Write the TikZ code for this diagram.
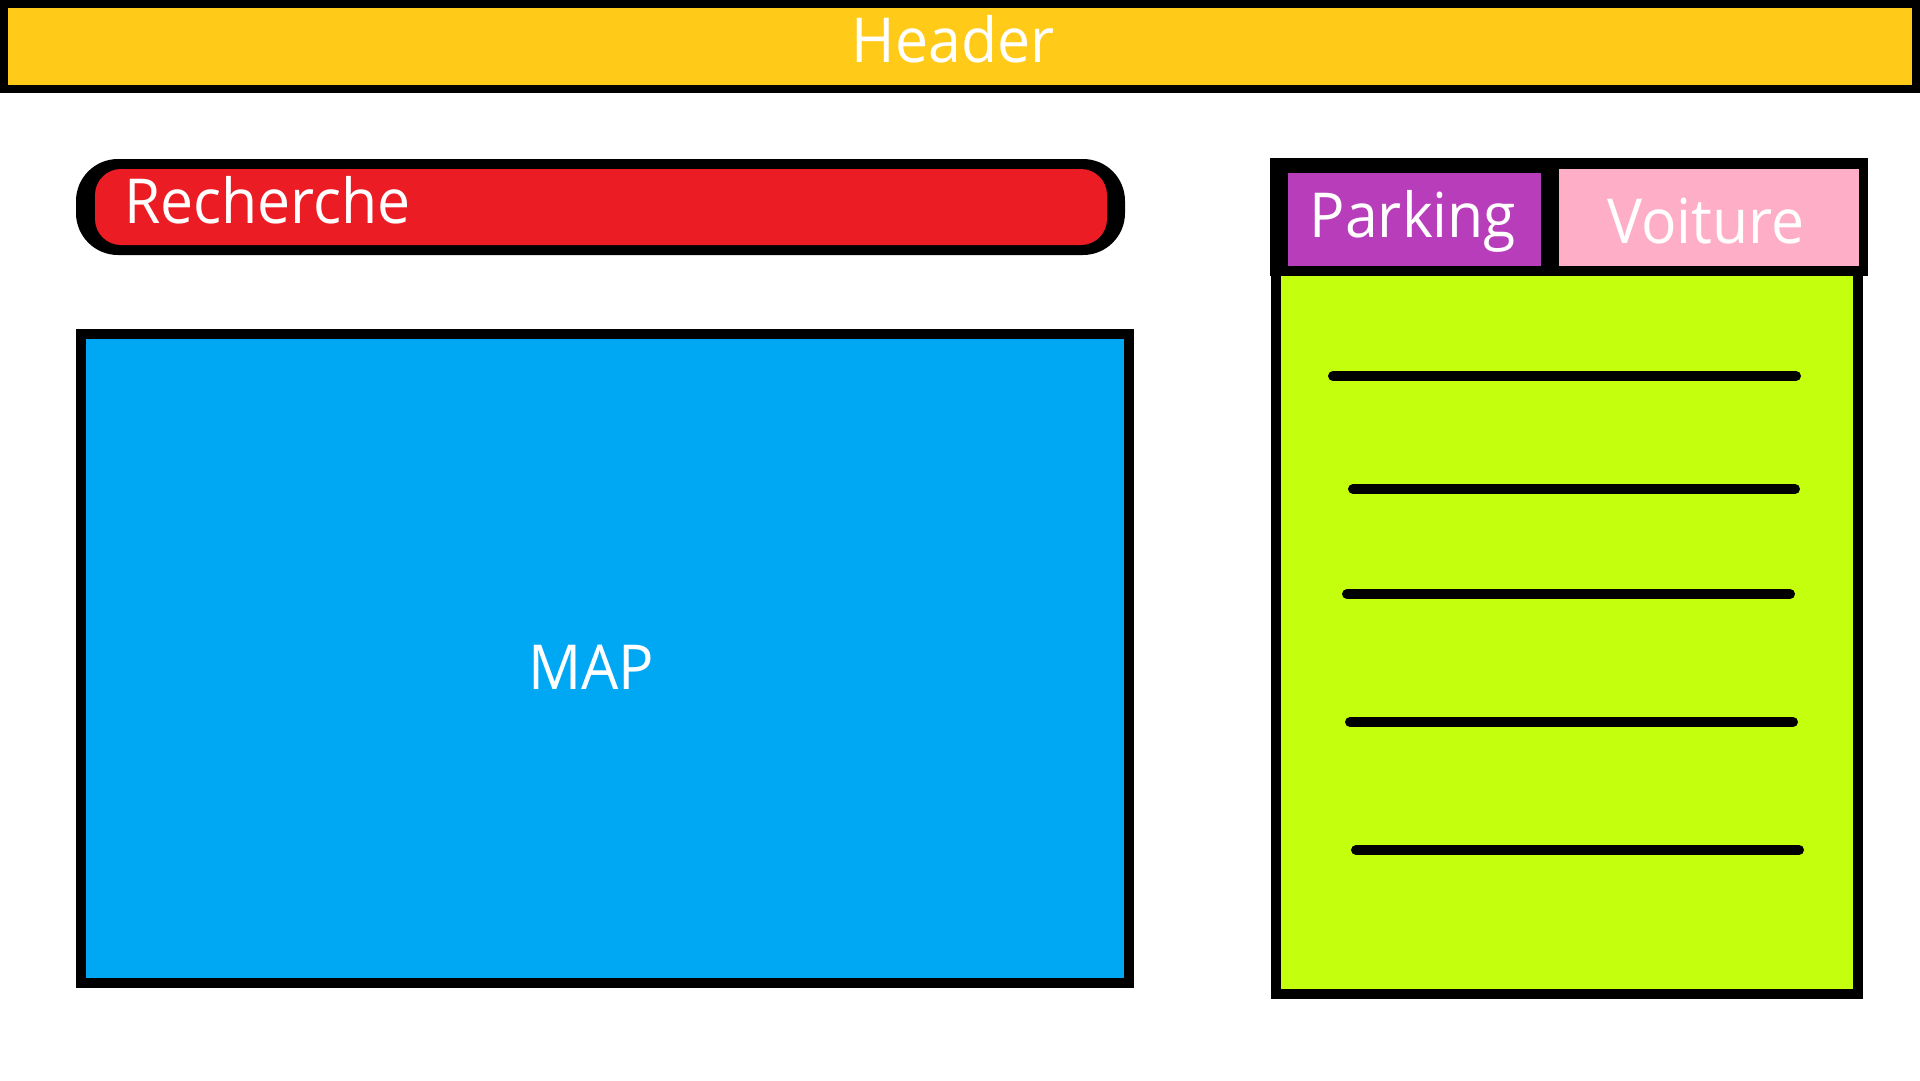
\documentclass[tikz,border=0pt]{standalone}
\usepackage{fontspec}
\setmainfont{Open Sans}[FakeStretch=0.95]
\definecolor{hdr}{HTML}{FFCA18}
\definecolor{srch}{HTML}{EC1C24}
\definecolor{mapc}{HTML}{00A8F3}
\definecolor{park}{HTML}{B83DBA}
\definecolor{voit}{HTML}{FFAEC8}
\definecolor{listc}{HTML}{C4FF0E}
\tikzset{
  box/.style={rectangle, inner sep=0pt, outer sep=0pt},
  lbl/.style={inner sep=0pt, outer sep=0pt, text=white, anchor=base, font=\fontsize{62}{70}\selectfont},
  rowline/.style={line width=10pt, line cap=round, black},
}
\begin{document}
\begin{tikzpicture}[x=1pt, y=-1pt]
\useasboundingbox (0,0) rectangle (1920,1080);
\fill[white] (0,0) rectangle (1920,1080);
% header
\node[box, draw=black, line width=8pt, fill=hdr, minimum width=1912pt, minimum height=85pt] (header) at (960,46.5) {};
\node[lbl] (headertxt) at (953,62) {Header};
% search bar
\node[box, fill=black, rounded corners=42pt, minimum width=1049pt, minimum height=96pt] (searchout) at (600.5,207) {};
\node[box, fill=srch, rounded corners=26pt, minimum width=1012pt, minimum height=76pt] (search) at (601,207) {};
\node[lbl, anchor=base west] (searchtxt) at (124,223) {Recherche};
% map
\node[box, draw=black, line width=10pt, fill=mapc, minimum width=1048pt, minimum height=649pt] (map) at (605,658) {};
\node[lbl] (maptxt) at (591,689) {MAP};
% right panel
\node[box, fill=black, minimum width=598pt, minimum height=118pt] (tabbar) at (1569,217) {};
\node[box, draw=black, line width=10pt, fill=listc, minimum width=582pt, minimum height=723pt] (list) at (1567,632.5) {};
\node[box, fill=park, minimum width=253pt, minimum height=93pt] (parking) at (1414.5,219.5) {};
\node[box, fill=voit, minimum width=300pt, minimum height=97pt] (voiture) at (1709,217.5) {};
\node[lbl] (parkingtxt) at (1413,237) {Parking};
\node[lbl] (voituretxt) at (1706,243) {Voiture};
% list rows
\coordinate (r1a) at (1333,376); \coordinate (r1b) at (1796,376);
\coordinate (r2a) at (1353,489); \coordinate (r2b) at (1795,489);
\coordinate (r3a) at (1347,594); \coordinate (r3b) at (1790,594);
\coordinate (r4a) at (1350,722); \coordinate (r4b) at (1793,722);
\coordinate (r5a) at (1356,850); \coordinate (r5b) at (1799,850);
\draw[rowline] (r1a) -- (r1b);
\draw[rowline] (r2a) -- (r2b);
\draw[rowline] (r3a) -- (r3b);
\draw[rowline] (r4a) -- (r4b);
\draw[rowline] (r5a) -- (r5b);
\end{tikzpicture}
\end{document}
